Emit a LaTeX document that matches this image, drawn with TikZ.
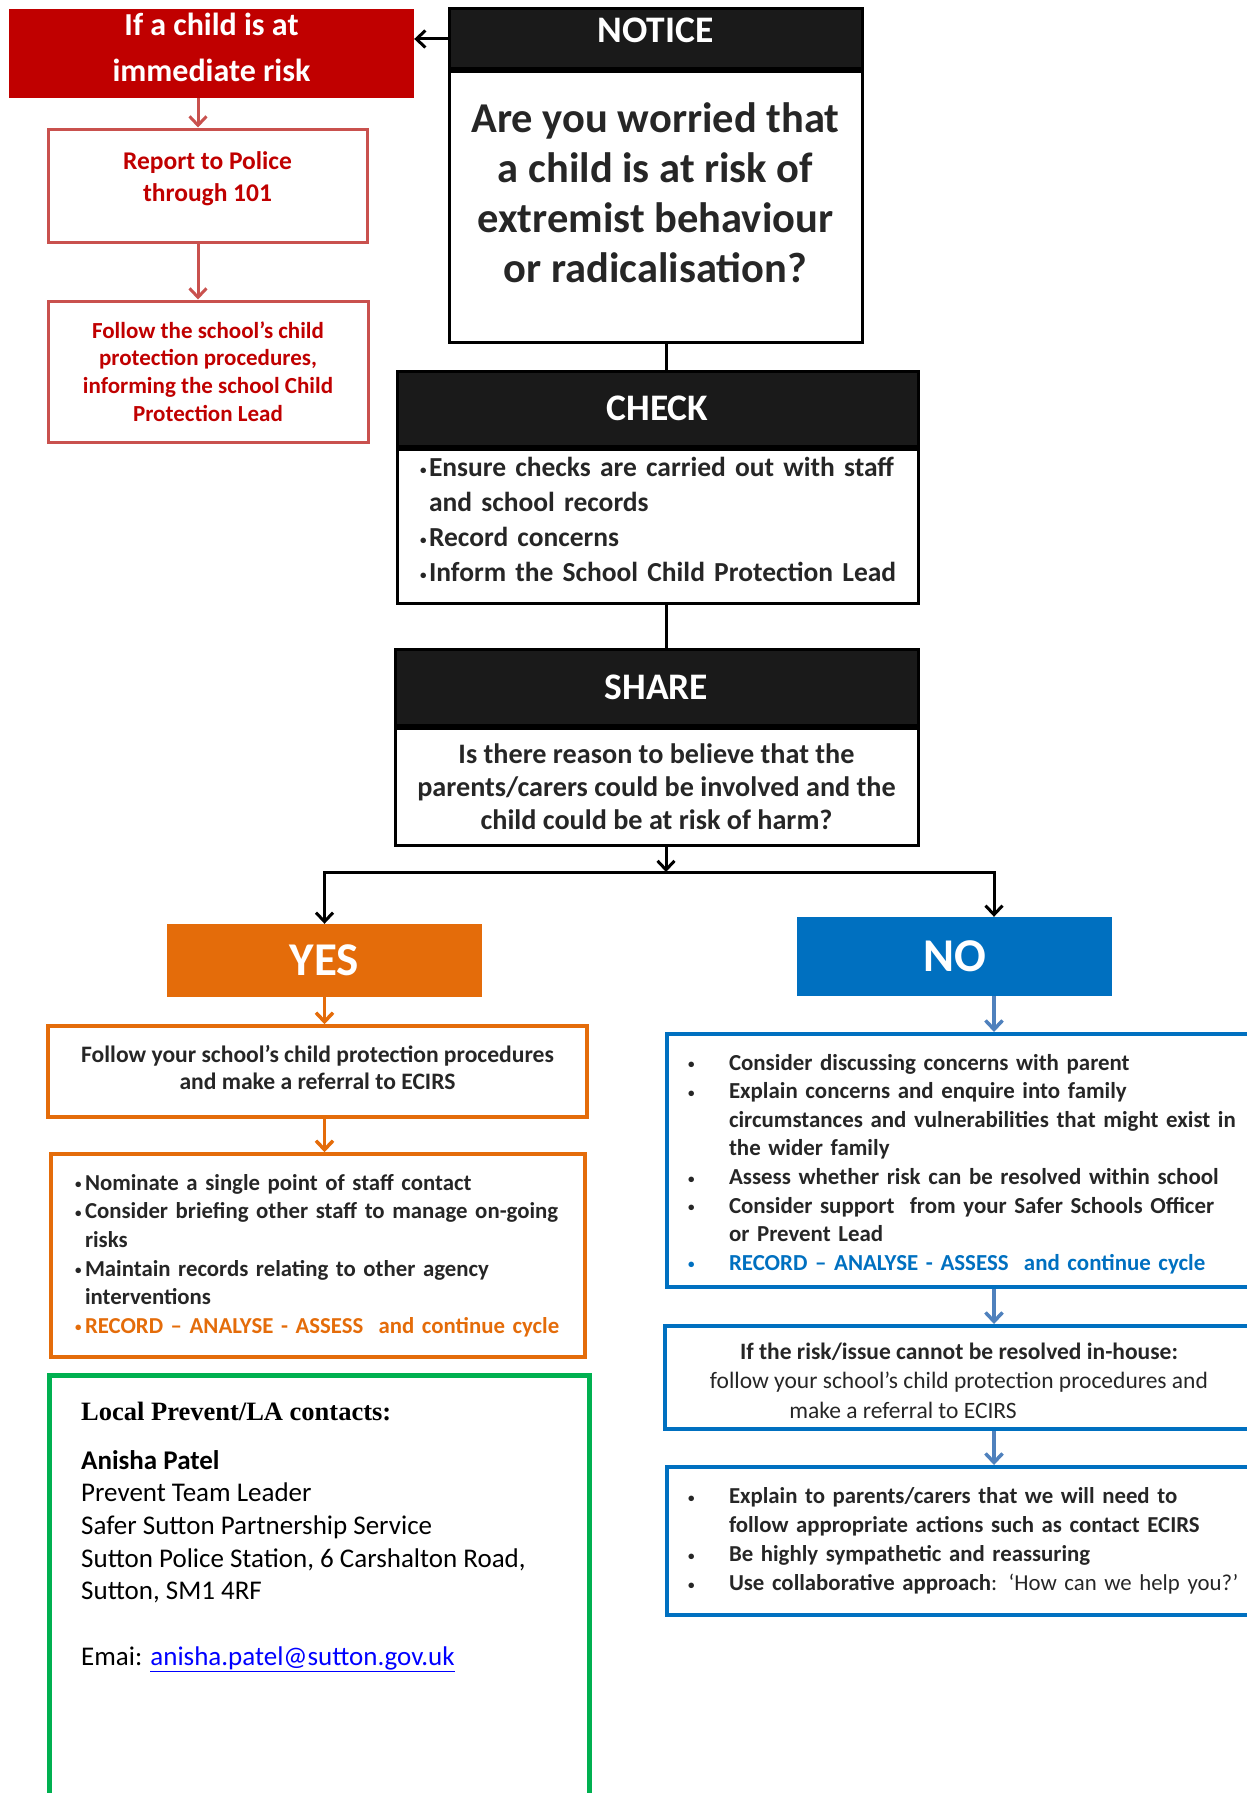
\documentclass[tikz,border=0pt]{standalone}
\usepackage{fontspec}
\setmainfont{Carlito}
\newfontfamily\serifhead{Liberation Serif}
\usetikzlibrary{positioning,arrows.meta}

\definecolor{riskred}{HTML}{C00000}
\definecolor{redline}{HTML}{C9514E}
\definecolor{headblack}{HTML}{1A1A1A}
\definecolor{bodytext}{HTML}{262626}
\definecolor{yesorange}{HTML}{E46C0A}
\definecolor{noblue}{HTML}{0070C0}
\definecolor{arrowblue}{HTML}{4F81BD}
\definecolor{contactgreen}{HTML}{00B050}
\definecolor{mailblue}{HTML}{0000FF}

\newcommand{\fsz}[2]{\fontsize{#1}{#2}\selectfont}
\newcommand{\dotmark}{\raisebox{1.5pt}{\fsz{13}{13}\textbullet}}
\newcommand{\padbelow}[1]{\rule[-#1]{0pt}{#1}}

\begin{document}
\begin{tikzpicture}[x=1pt,y=-1pt,
  every node/.style={inner sep=0pt,align=center,text=bodytext},
  redhead/.style={fill=riskred,text=white,font=\bfseries\fsz{32}{46}},
  redbox/.style={draw=redline,line width=3pt,text=riskred,font=\bfseries},
  blackhead/.style={draw=black,fill=headblack,line width=3pt,text=white,font=\bfseries\fsz{37.5}{42}},
  blackbody/.style={draw=black,line width=3pt,font=\bfseries},
  answer/.style={text=white,font=\bfseries\fsz{47}{50},minimum width=315pt},
  orangebox/.style={draw=yesorange,line width=3.5pt,font=\bfseries\fsz{22.8}{28.6}},
  bluebox/.style={draw=noblue,line width=4pt,font=\bfseries\fsz{22.9}{28.6}},
  link/.style={line width=3pt,draw=black},
  blackarrow/.style={link,-{Straight Barb[length=9pt,width=17pt]}},
  redarrow/.style={line width=3pt,draw=redline,-{Straight Barb[length=9pt,width=17pt]}},
  orangearrow/.style={line width=3.5pt,draw=yesorange,-{Straight Barb[length=9pt,width=17pt]}},
  bluearrow/.style={line width=3.5pt,draw=arrowblue,-{Straight Barb[length=9pt,width=17pt]}}]
\useasboundingbox (0,0) rectangle (1247,1793);

% immediate risk column
\node[redhead,minimum width=405pt,minimum height=89pt] (risk) at (211.5,53.5) {If a child is at\\immediate risk\padbelow{12pt}};
\node[redbox,minimum width=319pt,minimum height=113pt,font=\bfseries\fsz{25.5}{32}] (police) at (207.5,185.5) {Report to Police\\through 101\padbelow{18pt}};
\node[redbox,minimum width=320pt,minimum height=141pt,font=\bfseries\fsz{23}{27.8}] (cpl) at (208,371.5) {Follow the school’s child\\protection procedures,\\informing the school Child\\Protection Lead};

% notice - check - share
\node[blackhead,minimum width=413pt,minimum height=60pt] (notice) at (655.5,39) {NOTICE\padbelow{18pt}};
\node[blackbody,below=0pt of notice,minimum width=413pt,minimum height=270pt,font=\bfseries\fsz{42.5}{50}] (worry) {Are you worried that\\a child is at risk of\\extremist behaviour\\or radicalisation?\padbelow{28pt}};
\node[blackhead,minimum width=521pt,minimum height=75pt] (check) at (657.5,408.5) {CHECK};
\node[blackbody,below=0pt of check,text width=475pt,inner xsep=23pt,minimum height=154pt,align=left,font=\bfseries\fsz{27.5}{35}] (checks) {%
\makebox[9pt][l]{\dotmark}\mbox{Ensure checks are carried out with staff}\\
\hspace*{9pt}and school records\\
\makebox[9pt][l]{\dotmark}Record concerns\\
\makebox[9pt][l]{\dotmark}\mbox{Inform the School Child Protection Lead}\padbelow{14pt}};
\node[blackhead,minimum width=523pt,minimum height=76pt] (share) at (656.5,687) {SHARE};
\node[blackbody,below=0pt of share,minimum width=523pt,minimum height=117pt,font=\bfseries\fsz{28.2}{33}] (harm) {Is there reason to believe that the\\parents/carers could be involved and the\\child could be at risk of harm?};

\coordinate (spine) at (666,0);
\coordinate (fork) at (666,872);
\coordinate (rspine) at (994,0);
\coordinate (redx) at (198,0);

% yes / no
\node[answer,fill=yesorange,minimum height=73pt] (yes) at (324.5,960.5) {YES};
\node[answer,fill=noblue,minimum height=79pt] (no) at (954.5,956.5) {NO};

\node[orangebox,minimum width=539pt,minimum height=91pt,font=\bfseries\fsz{23.6}{27.5}] (referral) at (317.5,1071.5) {Follow your school’s child protection procedures\\and make a referral to ECIRS\padbelow{8pt}};
\node[orangebox,text width=486pt,inner xsep=24pt,minimum height=203pt,align=left] (actions) at (318,1255.5) {%
\makebox[10pt][l]{\dotmark}Nominate a single point of staff contact\\
\makebox[10pt][l]{\dotmark}\mbox{Consider briefing other staff to manage on-going}\\
\hspace*{10pt}risks\\
\makebox[10pt][l]{\dotmark}Maintain records relating to other agency\\
\hspace*{10pt}interventions\\
\textcolor{yesorange}{\makebox[10pt][l]{\dotmark}\mbox{RECORD – ANALYSE - ASSESS\ \ and continue cycle}}};

\node[bluebox,text width=581pt,inner xsep=21pt,minimum height=253pt,align=left] (discuss) at (978.5,1160.5) {%
\rule{0pt}{23pt}\makebox[41pt][l]{\dotmark}Consider discussing concerns with parent\\
\makebox[41pt][l]{\dotmark}Explain concerns and enquire into family\\
\hspace*{41pt}circumstances and vulnerabilities that might exist in\\
\hspace*{41pt}the wider family\\
\makebox[41pt][l]{\dotmark}Assess whether risk can be resolved within school\\
\makebox[41pt][l]{\dotmark}Consider support\ \ from your Safer Schools Officer\\
\hspace*{41pt}or Prevent Lead\\
\textcolor{noblue}{\makebox[41pt][l]{\dotmark}RECORD – ANALYSE - ASSESS\ \ and continue cycle}};
\node[bluebox,minimum width=588pt,minimum height=103pt,font=\fsz{23.5}{29.7}] (inhouse) at (959,1377.5) {\rule{0pt}{23pt}\textbf{If the risk/issue cannot be resolved in-house:}\\follow your school’s child protection procedures and\\make a referral to ECIRS\rule{112pt}{0pt}};
\node[bluebox,text width=581pt,inner xsep=21pt,minimum height=148pt,align=left,font=\bfseries\fsz{22.8}{29}] (explain) at (978.5,1541) {%
\makebox[41pt][l]{\dotmark}Explain to parents/carers that we will need to\\
\hspace*{41pt}follow appropriate actions such as contact ECIRS\\
\makebox[41pt][l]{\dotmark}Be highly sympathetic and reassuring\\
\makebox[41pt][l]{\dotmark}Use collaborative approach\textmd{: ‘How can we help you?’}};

% contacts
\draw[contactgreen,line width=5pt] (49,1375) rectangle (589,1812);
\node[anchor=west,font=\serifhead\bfseries\fsz{26.5}{30},text=black] (contacthead) at (81,1411) {Local Prevent/LA contacts:};
\node[anchor=north west,align=left,font=\fsz{27}{32.7},text=black] (contacts) at (81,1450) {\textbf{Anisha Patel}\\Prevent Team Leader\\Safer Sutton Partnership Service\\Sutton Police Station, 6 Carshalton Road,\\Sutton, SM1 4RF\\[32.7pt]Emai: \textcolor{mailblue}{\underline{anisha.patel@sutton.gov.uk}}};

% connectors
\draw[redarrow] (risk.south -| redx) -- (police.north -| redx);
\draw[redarrow] (police.south -| redx) -- (cpl.north -| redx);
\draw[blackarrow] (notice.west) -- (notice.west -| risk.east);
\draw[link] (worry.south -| spine) -- (check.north -| spine);
\draw[link] (checks.south -| spine) -- (share.north -| spine);
\draw[blackarrow] (harm.south -| spine) -- (fork);
\draw[blackarrow] (fork) -| (yes.north);
\draw[blackarrow] (fork) -| (no.north -| rspine);
\draw[orangearrow] (yes.south) -- (referral.north -| yes.south);
\draw[orangearrow] (referral.south -| yes.south) -- (actions.north -| yes.south);
\draw[bluearrow] (no.south -| rspine) -- (discuss.north -| rspine);
\draw[bluearrow] (discuss.south -| rspine) -- (inhouse.north -| rspine);
\draw[bluearrow] (inhouse.south -| rspine) -- (explain.north -| rspine);
\end{tikzpicture}
\end{document}
